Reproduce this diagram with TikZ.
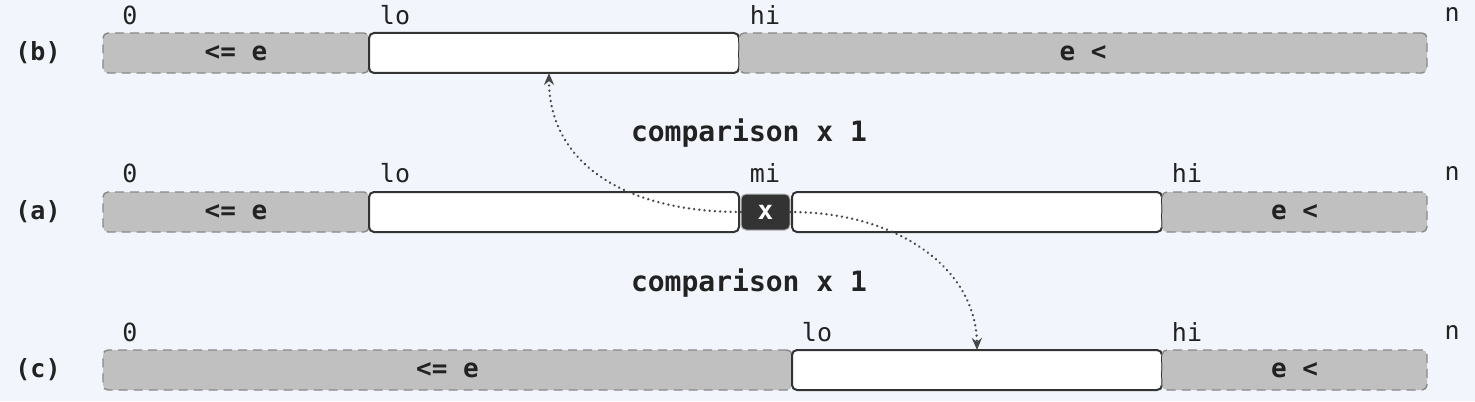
\documentclass[tikz,border=0pt]{standalone}
\usepackage{fontspec}
\setmonofont{DejaVu Sans Mono}
\usetikzlibrary{arrows.meta}
\definecolor{bgc}{HTML}{F2F6FC}
\definecolor{grayfill}{HTML}{C0C0C0}
\definecolor{grayline}{HTML}{888888}
\definecolor{ink}{HTML}{222222}
\definecolor{boxline}{HTML}{333333}
\definecolor{xfill}{HTML}{333333}
\tikzset{
  seg/.style={rectangle, inner sep=0pt, outer sep=0pt, minimum height=20pt, rounded corners=2.5pt, anchor=west},
  grayseg/.style={seg, fill=grayfill, draw=grayline, dash pattern=on 4.5pt off 3pt, line width=0.7pt,
     font=\ttfamily\bfseries\fontsize{13}{15}\selectfont, text=ink},
  whiteseg/.style={seg, fill=white, draw=boxline, line width=1pt},
  xbox/.style={seg, fill=xfill, draw=grayline!60, line width=0.5pt, minimum height=18pt, text=white,
     font=\ttfamily\bfseries\fontsize{13}{15}\selectfont},
  idx/.style={inner sep=0pt, font=\ttfamily\fontsize{12.5}{14}\selectfont, text=ink},
  rowlab/.style={inner sep=0pt, font=\ttfamily\bfseries\fontsize{12.5}{14}\selectfont, text=ink},
  cmp/.style={inner sep=0pt, font=\ttfamily\bfseries\fontsize{14}{16}\selectfont, text=ink},
  flow/.style={draw=boxline!90, line width=1.3pt, dash pattern=on 0.01pt off 2.6pt, line cap=round,
     -{Stealth[length=6pt,width=5pt,line cap=butt]}},
}
\begin{document}
\begin{tikzpicture}[x=0.5pt,y=-0.5pt]
\useasboundingbox[fill=bgc] (0,0) rectangle (1475,401);
% row (b)
\node[rowlab] (lb) at (38,53) {(b)};
\node[grayseg, minimum width=133pt] (bl) at (103,53) {<= e};
\node[whiteseg, minimum width=185pt] (bw) at (369,53) {};
\node[grayseg, minimum width=344pt] (br) at (739,53) {e <};
\node[idx] (b0) at (130,15) {0};
\node[idx] (blo) at (395,15) {lo};
\node[idx] (bhi) at (765,15) {hi};
\node[idx] (bn) at (1452,15) {n};
% comparison texts
\node[cmp] (c1) at (749,133) {comparison x 1};
\node[cmp] (c2) at (749,283) {comparison x 1};
% row (a)
\node[rowlab] (la) at (38,212) {(a)};
\node[grayseg, minimum width=133pt] (al) at (103,212) {<= e};
\node[whiteseg, minimum width=185pt] (aw1) at (369,212) {};
\node[xbox, minimum width=24.5pt] (ax) at (741,212) {x};
\node[whiteseg, minimum width=185pt] (aw2) at (792,212) {};
\node[grayseg, minimum width=132.5pt] (ar) at (1162,212) {e <};
\node[idx] (a0) at (130,173) {0};
\node[idx] (alo) at (395,173) {lo};
\node[idx] (ami) at (765,173) {mi};
\node[idx] (ahi) at (1187,173) {hi};
\node[idx] (an) at (1452,173) {n};
% row (c)
\node[rowlab] (lc) at (38,370) {(c)};
\node[grayseg, minimum width=344.5pt] (cl) at (103,370) {<= e};
\node[whiteseg, minimum width=185pt] (cw) at (792,370) {};
\node[grayseg, minimum width=132.5pt] (cr) at (1162,370) {e <};
\node[idx] (c0) at (130,332) {0};
\node[idx] (clo) at (817,332) {lo};
\node[idx] (chi) at (1187,332) {hi};
\node[idx] (cn) at (1452,332) {n};
% arrows
\draw[flow] (ax.west) .. controls (620,212) and (549,160) .. ([xshift=-2.5pt]bw.south);
\draw[flow] (ax.east) .. controls (900,212) and (976,270) .. (cw.north);
\end{tikzpicture}
\end{document}
